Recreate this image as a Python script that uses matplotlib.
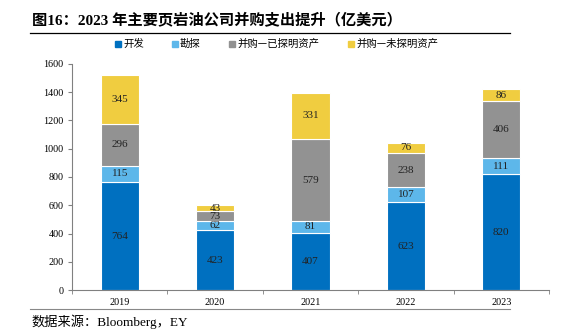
import matplotlib
matplotlib.use("Agg")
import matplotlib.pyplot as plt
import numpy as np
from matplotlib.patches import Rectangle

plt.rcParams['font.family'] = ['Liberation Serif', 'Noto Sans CJK SC', 'DejaVu Sans']

years = ['2019', '2020', '2021', '2022', '2023']
dev = [764, 423, 407, 623, 820]
expl = [115, 62, 81, 107, 111]
ma_proven = [296, 73, 579, 238, 406]
ma_unproven = [345, 43, 331, 76, 86]
series_names = ['开发', '勘探', '并购—已探明资产', '并购—未探明资产']
colors = ['#0070C0', '#5DB7EA', '#929292', '#F0CD40']
yticks = [0, 200, 400, 600, 800, 1000, 1200, 1400, 1600]

W, H = 572, 334
fig = plt.figure(figsize=(W/100, H/100), dpi=100)
ax = fig.add_axes([72/W, 1-290/H, (549-72)/W, (290-64)/H])

x = np.arange(len(years))
bottom = np.zeros(len(years))
series = [dev, expl, ma_proven, ma_unproven]
for vals, c, name in zip(series, colors, series_names):
    vals = np.array(vals, dtype=float)
    ax.bar(x, vals, width=0.4, bottom=bottom, color=c, edgecolor='white',
           linewidth=0.8, label=name)
    for xi, b, v in zip(x, bottom, vals):
        ax.text(xi, b + v/2, f'{int(v)}', ha='center', va='center', fontsize=8,
                color='#222222', family='Liberation Serif')
    bottom += vals

ax.set_xlim(-0.5, 4.5)
ax.set_ylim(0, 1600)
ax.set_yticks(yticks)
ax.set_yticklabels([str(v) for v in yticks], fontsize=7.3)
ax.set_xticks(x)
ax.set_xticklabels(years, fontsize=7.3)
ax.set_xticks(np.arange(-0.5, 5, 1), minor=True)
ax.tick_params(axis='x', which='major', length=0, pad=6)
ax.tick_params(axis='x', which='minor', length=3, color='#808080', direction='out')
ax.tick_params(axis='y', length=3, color='#808080', direction='out', pad=3)
for s in ['top', 'right']:
    ax.spines[s].set_visible(False)
for s in ['left', 'bottom']:
    ax.spines[s].set_color('#808080')
    ax.spines[s].set_linewidth(0.8)

# legend (manually placed entries)
leg_x = [115, 172, 229, 348]
leg_y = 44
sq = 6
for lx, c, name in zip(leg_x, colors, series_names):
    fig.add_artist(Rectangle((lx/W, (H-leg_y-sq/2)/H), sq/W, sq/H, color=c,
                             transform=fig.transFigure))
    fig.text((lx+sq+2)/W, 1-leg_y/H, name, fontsize=7.5, va='center', ha='left',
             family=['Noto Sans CJK SC'])

# title
fig.text(32/W, 1-20/H, '图16：2023 年主要页岩油公司并购支出提升（亿美元）',
         fontsize=11, fontweight='bold', va='center', ha='left',
         family=['Liberation Serif', 'Noto Sans CJK SC'])
fig.add_artist(plt.Line2D([30/W, 510/W], [1-33/H, 1-33/H], color='black', linewidth=0.9))
fig.add_artist(plt.Line2D([30/W, 510/W], [1-309/H, 1-309/H], color='#888888', linewidth=0.8))
fig.text(31/W, 1-322/H, '数据来源：Bloomberg，EY', fontsize=9.5, va='center', ha='left',
         family=['Liberation Serif', 'Noto Sans CJK SC'])

fig.savefig('out.png', dpi=100)
